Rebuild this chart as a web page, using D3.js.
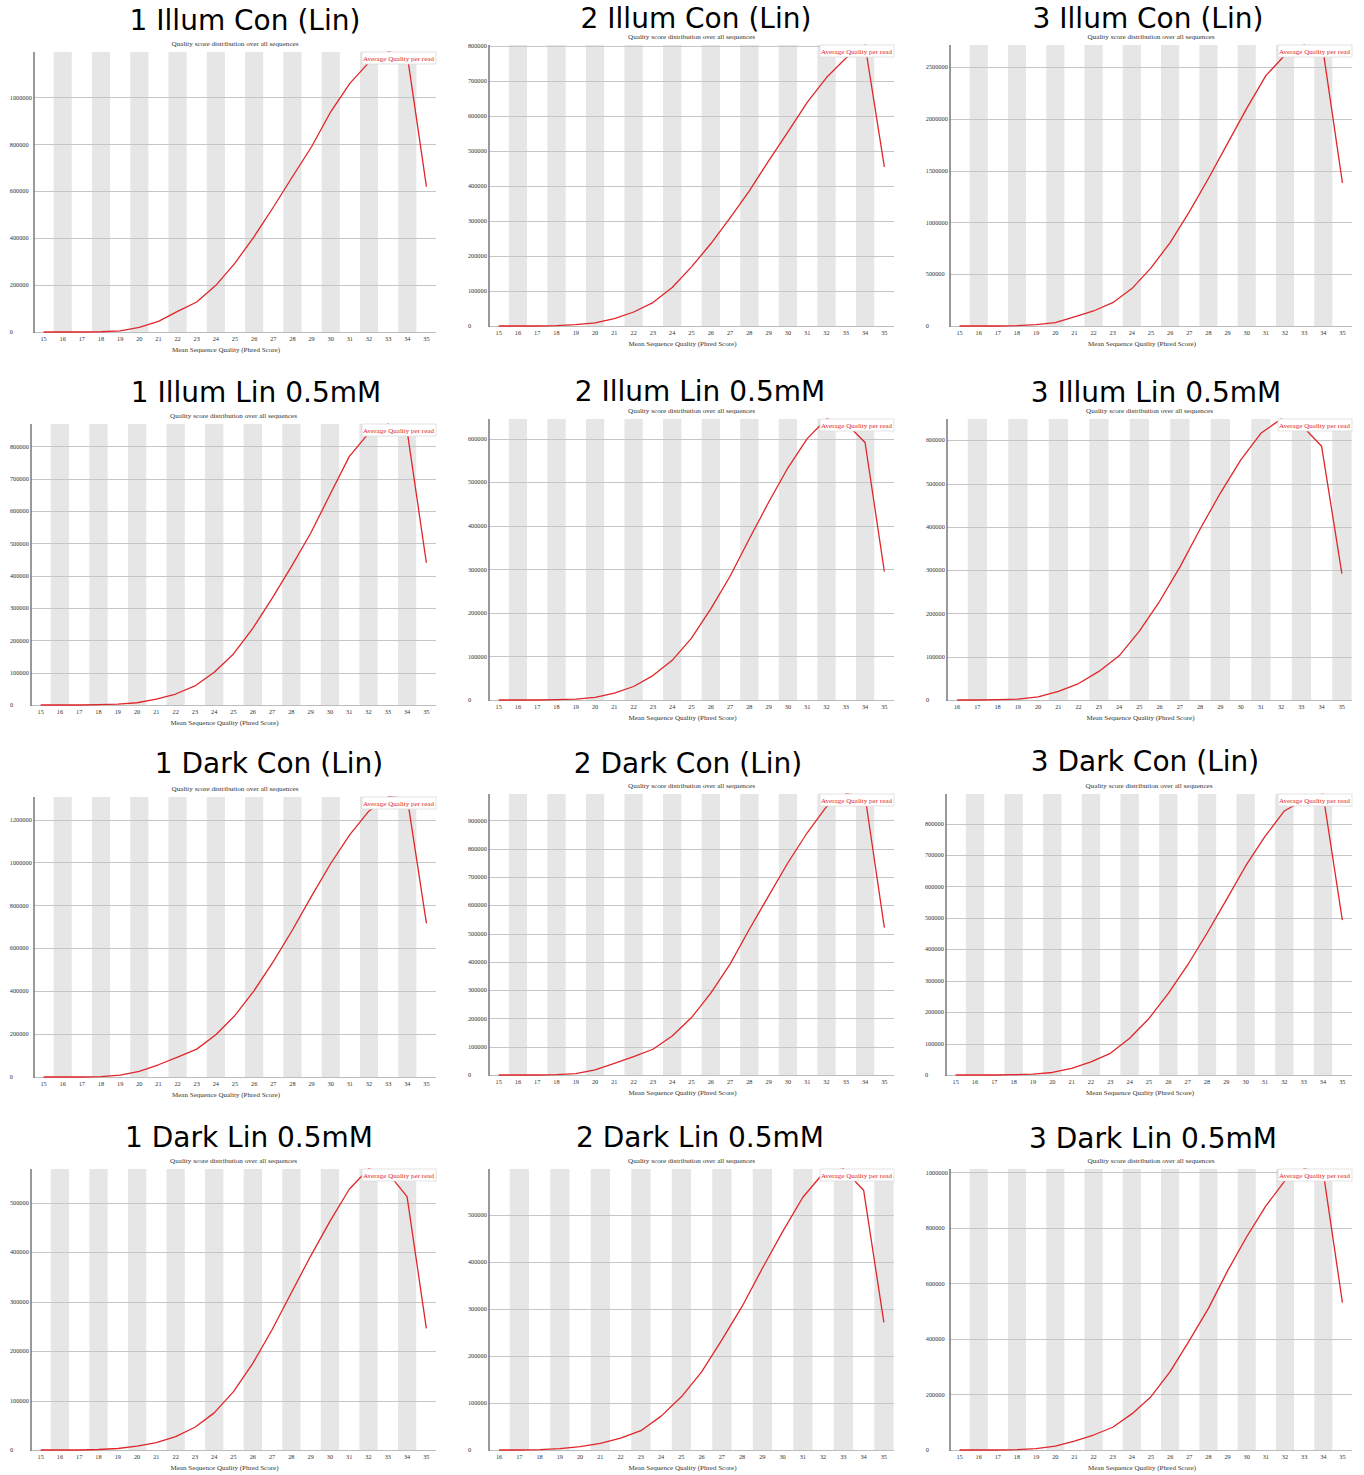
<!DOCTYPE html>
<html>
<head>
<meta charset="utf-8">
<script src="https://cdn.jsdelivr.net/npm/d3@7"></script>
<style>
  body { margin: 0; background: #fff; }
</style>
</head>
<body>
<svg id="fig" width="1364" height="1475"></svg>
<script>
// ---- data ----------------------------------------------------------------
const panelTitles = [
  "1 Illum Con (Lin)", "2 Illum Con (Lin)", "3 Illum Con (Lin)",
  "1 Illum Lin 0.5mM", "2 Illum Lin 0.5mM", "3 Illum Lin 0.5mM",
  "1 Dark Con (Lin)",  "2 Dark Con (Lin)",  "3 Dark Con (Lin)",
  "1 Dark Lin 0.5mM",  "2 Dark Lin 0.5mM",  "3 Dark Lin 0.5mM"
];

// mean Phred score categories (x tick labels)
const phred15 = ["15","16","17","18","19","20","21","22","23","24","25",
                 "26","27","28","29","30","31","32","33","34","35"];
const phred16 = ["16","17","18","19","20","21","22","23","24","25",
                 "26","27","28","29","30","31","32","33","34","35"];

// number of reads per mean quality score
const illumCon1 = [0,0,0,1000,5000,20000,45000,88000,128000,199000,294000,407000,532000,662000,790000,939000,1060000,1150000,1194000,1180000,620000];
const illumCon2 = [0,0,0,1000,4000,9000,21000,40000,67000,110000,169000,235000,309000,386000,472000,555000,639000,710000,765000,803000,455000];
const illumCon3 = [0,0,0,3000,13000,32000,87000,145000,225000,361000,561000,805000,1102000,1424000,1762000,2100000,2416000,2616000,2712000,2645000,1382000];
const illumLin1 = [0,0,0,1000,3000,7000,18000,34000,59000,101000,158000,237000,330000,428000,531000,650000,768000,840000,869000,849000,440000];
const illumLin2 = [0,0,0,1000,2000,6000,16000,31000,56000,91000,142000,209000,284000,370000,454000,533000,600000,645000,636000,591000,295000];
const illumLin3 = [0,0,1000,2000,7000,20000,38000,66000,102000,159000,228000,307000,395000,478000,554000,616000,649000,635000,586000,292000];
const darkCon1  = [0,0,0,2000,9000,26000,57000,93000,130000,197000,287000,403000,538000,685000,843000,995000,1130000,1240000,1305000,1300000,716000];
const darkCon2  = [0,0,0,1000,5000,18000,41000,65000,91000,138000,203000,289000,392000,515000,633000,750000,856000,948000,993000,985000,521000];
const darkCon3  = [0,0,0,1000,3000,8000,21000,42000,69000,117000,180000,260000,350000,451000,557000,665000,759000,840000,875000,894000,493000];
const darkLin1  = [0,0,0,1000,3000,8000,15000,27000,46000,75000,118000,175000,243000,318000,392000,462000,527000,568000,560000,512000,246000];
const darkLin2  = [0,0,1000,3000,7000,14000,25000,41000,72000,113000,166000,234000,305000,386000,464000,537000,588000,597000,552000,271000];
const darkLin3  = [0,0,0,1000,5000,14000,32000,54000,82000,130000,192000,282000,394000,510000,645000,768000,879000,970000,1012000,999000,531000];

const panelCounts = [illumCon1, illumCon2, illumCon3, illumLin1, illumLin2, illumLin3,
                     darkCon1, darkCon2, darkCon3, darkLin1, darkLin2, darkLin3];
const panelCategories = [phred15, phred15, phred15, phred15, phred15, phred16,
                         phred15, phred15, phred15, phred15, phred16, phred15];
const yTickSteps = [200000, 100000, 500000, 100000, 100000, 100000,
                    200000, 100000, 100000, 100000, 100000, 200000];

const subtitleText = "Quality score distribution over all sequences";
const xAxisTitle   = "Mean Sequence Quality (Phred Score)";
const legendLabel  = "Average Quality per read";

// ---- layout --------------------------------------------------------------
// plot area of each panel: [left, top, right, bottom]
const plotBoxes = [
  [34, 52, 436, 332],   [489, 45, 894, 326],   [950, 45, 1352, 326],
  [31, 424, 436, 705],  [489, 419, 894, 700],  [947, 419, 1352, 700],
  [34, 797, 436, 1077], [489, 794, 894, 1075], [946, 794, 1352, 1075],
  [31, 1169, 436, 1450],[489, 1169, 894, 1450],[950, 1169, 1352, 1450]
];
// panel heading: [centre x, baseline y]
const titleAnchors = [
  [245, 30],   [696, 28],   [1148, 28],
  [256, 402],  [700, 401],  [1156, 402],
  [269, 773],  [688, 773],  [1145, 771],
  [249, 1147], [700, 1147], [1153, 1148]
];
// headings whose white backing overlaps the top of the subtitle
const headingOverlapsSubtitle = [false, true, true, false, false, false,
                                 false, false, false, false, false, false];

const SERIF = "'Liberation Serif', 'DejaVu Serif', serif";
const LINE_RED = "#e0262a";

const svg = d3.select("#fig");
svg.append("rect").attr("width", 1364).attr("height", 1475).attr("fill", "#fff");

panelTitles.forEach((title, i) => {
  const [L, T, R, B] = plotBoxes[i];
  const cats = panelCategories[i];
  const vals = panelCounts[i];
  const ymax = d3.max(vals);
  const g = svg.append("g").attr("class", "panel");

  const x = d3.scaleBand().domain(cats).range([L, R]).padding(0);
  const y = d3.scaleLinear().domain([0, ymax]).range([B, T]);
  const cx = c => x(c) + x.bandwidth() / 2;

  // alternating background columns
  g.selectAll("rect.stripe")
    .data(cats.filter((c, k) => k % 2 === 1))
    .join("rect")
    .attr("class", "stripe")
    .attr("x", c => x(c) + 0.5)
    .attr("y", T)
    .attr("width", x.bandwidth() - 1)
    .attr("height", B - T)
    .attr("fill", "#e6e6e6");

  // horizontal grid lines
  const ticks = d3.range(0, ymax + 1, yTickSteps[i]);
  g.selectAll("line.grid")
    .data(ticks.filter(t => t > 0))
    .join("line")
    .attr("class", "grid")
    .attr("x1", L).attr("x2", R)
    .attr("y1", t => Math.round(y(t)) + 0.5)
    .attr("y2", t => Math.round(y(t)) + 0.5)
    .attr("stroke", "#c6c6c6")
    .attr("stroke-width", 1);

  // axis lines
  g.append("line")
    .attr("x1", L).attr("x2", R).attr("y1", B + 0.5).attr("y2", B + 0.5)
    .attr("stroke", "#bdbdbd").attr("stroke-width", 1.2);
  g.append("line")
    .attr("x1", L).attr("x2", L).attr("y1", T).attr("y2", B + 1)
    .attr("stroke", "#6e6e6e").attr("stroke-width", 1.4);

  // y tick labels (left aligned in a fixed column)
  const maxDigits = String(ticks[ticks.length - 1]).length;
  const labelX = L - (maxDigits * 3.15 + 2.2);
  g.selectAll("text.ytick")
    .data(ticks)
    .join("text")
    .attr("class", "ytick")
    .attr("x", labelX)
    .attr("y", t => y(t) + 2.2)
    .attr("font-family", SERIF)
    .attr("font-size", 6.3)
    .attr("fill", "#333")
    .text(t => String(t));

  // x tick labels
  g.selectAll("text.xtick")
    .data(cats)
    .join("text")
    .attr("class", "xtick")
    .attr("x", cx)
    .attr("y", B + 8.6)
    .attr("text-anchor", "middle")
    .attr("font-family", SERIF)
    .attr("font-size", 6.3)
    .attr("fill", "#333")
    .text(c => c);

  // x axis title
  g.append("text")
    .attr("x", (L + R) / 2 - 9)
    .attr("y", B + 19.5)
    .attr("text-anchor", "middle")
    .attr("font-family", SERIF)
    .attr("font-size", 7)
    .attr("fill", "#333")
    .attr("textLength", 108)
    .attr("lengthAdjust", "spacingAndGlyphs")
    .text(xAxisTitle);

  // subtitle above the plot
  g.append("text")
    .attr("x", (L + R) / 2)
    .attr("y", T - 5.8)
    .attr("text-anchor", "middle")
    .attr("font-family", SERIF)
    .attr("font-size", 7)
    .attr("fill", "#333")
    .attr("textLength", 127)
    .attr("lengthAdjust", "spacingAndGlyphs")
    .text(subtitleText);

  // quality distribution line
  const line = d3.line()
    .x((v, k) => cx(cats[k]))
    .y(v => y(v));
  g.append("path")
    .datum(vals)
    .attr("d", line)
    .attr("fill", "none")
    .attr("stroke", LINE_RED)
    .attr("stroke-width", 1.3)
    .attr("stroke-linejoin", "round");

  // legend box (top right, over the line)
  g.append("rect")
    .attr("x", R - 74).attr("y", T)
    .attr("width", 74).attr("height", 12)
    .attr("fill", "#fff")
    .attr("stroke", "#dcdcdc").attr("stroke-width", 0.8);
  g.append("text")
    .attr("x", R - 73)
    .attr("y", T + 9.3)
    .attr("font-family", SERIF)
    .attr("font-size", 7)
    .attr("fill", LINE_RED)
    .attr("textLength", 71)
    .attr("lengthAdjust", "spacingAndGlyphs")
    .text(legendLabel);

  // heading
  const [tx, ty] = titleAnchors[i];
  if (headingOverlapsSubtitle[i]) {
    g.append("rect")
      .attr("x", L - 20).attr("y", ty - 30)
      .attr("width", R - L + 20).attr("height", (T - 10.5) - (ty - 30))
      .attr("fill", "#fff");
  }
  g.append("text")
    .attr("x", tx)
    .attr("y", ty)
    .attr("text-anchor", "middle")
    .attr("font-family", "'DejaVu Sans', Verdana, sans-serif")
    .attr("font-size", 28)
    .attr("fill", "#000")
    .text(title);
});
</script>
</body>
</html>
